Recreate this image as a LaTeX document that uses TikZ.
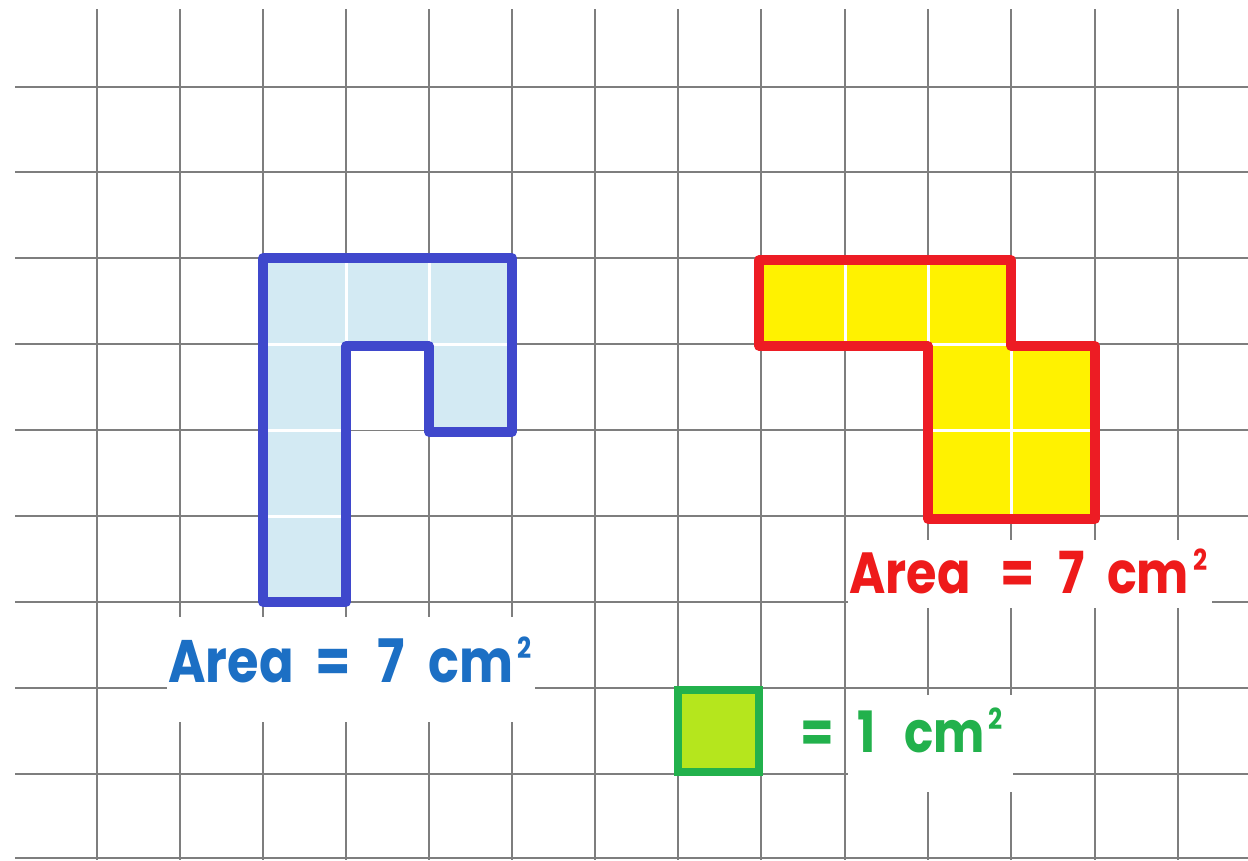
\documentclass[tikz,border=0pt]{standalone}
\usepackage{fontspec}
\newfontfamily\comic{Poppins}[FakeStretch=0.85]
\definecolor{gridgray}{HTML}{7E7E7E}
\definecolor{bluefill}{HTML}{D3EAF3}
\definecolor{blueline}{HTML}{3F48CC}
\definecolor{yellowfill}{HTML}{FFF200}
\definecolor{redline}{HTML}{ED1C24}
\definecolor{bluetext}{HTML}{1C6FC4}
\definecolor{redtext}{HTML}{EE1A1A}
\definecolor{greentext}{HTML}{22B14C}
\definecolor{greenfill}{HTML}{B5E61D}
\newcommand{\sqtwo}[1]{\hspace{4pt}\raisebox{#1}{\fontsize{29}{29}\selectfont 2}}
\tikzset{
  gridline/.style={draw=gridgray, line width=1.5pt},
  mask/.style={fill=white, draw=none},
  outline/.style={line width=9.5pt, line join=round},
  areatext/.style={font=\comic\bfseries\fontsize{#1}{#1}\selectfont, inner sep=0pt, anchor=base west}
}
\begin{document}
\begin{tikzpicture}[x=1pt,y=-1pt]
\useasboundingbox (0,0) rectangle (1248,860);
\fill[white] (0,0) rectangle (1248,860);
% grid
\foreach \x in {97,180,263,346,429,512,595,678,761,845,928,1011,1095,1178}
  \draw[gridline] (\x,9) -- (\x,860);
\foreach \y in {87,172,258,344,430,516,602,688,774,858}
  \draw[gridline] (15,\y) -- (1248,\y);
% white patches behind labels
\fill[mask] (167,617) rectangle (535,722);
\fill[mask] (848,540) rectangle (1212,608);
\fill[mask] (848,695) rectangle (1013,792);
% blue shape
\fill[white] (263,258) rectangle (512,430);
\fill[white] (263,258) rectangle (346,602);
\foreach \a/\b/\c/\d in {263/258/346/344, 346/258/429/344, 429/258/512/344,
  263/344/346/430, 429/344/512/430, 263/430/346/516, 263/516/346/602}
  \fill[bluefill] (\a+1.5,\b+1.5) rectangle (\c-1.5,\d-1.5);
\draw[blueline, outline] (263,258) -- (512,258) -- (512,432) -- (429,432) -- (429,346)
  -- (346,346) -- (346,602) -- (263,602) -- cycle;
% red shape
\fill[white] (759,258) rectangle (1011,346);
\fill[white] (928,344) rectangle (1095,518);
\foreach \a/\b/\c/\d in {761/258/845/344, 845/258/928/344, 928/258/1011/344,
  928/344/1011/430, 1011/344/1095/430, 928/430/1011/516, 1011/430/1095/516}
  \fill[yellowfill] (\a+1.5,\b+1.5) rectangle (\c-1.5,\d-1.5);
\draw[redline, outline] (759,260) -- (1011,260) -- (1011,346) -- (1095,346) -- (1095,519)
  -- (928,519) -- (928,346) -- (759,346) -- cycle;
% unit square
\filldraw[fill=greenfill, draw=greentext, line width=8pt] (678,690) rectangle (759,772);
% labels
\node[areatext=60, text=bluetext] (bluelabel) at (168,682)
  {Area\hspace{22pt}=\hspace{26pt}7\hspace{24pt}cm\sqtwo{24pt}};
\node[areatext=58, text=redtext] (redlabel) at (849,593)
  {Area\hspace{30pt}=\hspace{24pt}7\hspace{22pt}cm\sqtwo{23pt}};
\node[areatext=57, text=greentext] (unitlabel) at (800,752)
  {=\hspace{24pt}1\hspace{28pt}cm\sqtwo{23pt}};
\end{tikzpicture}
\end{document}
